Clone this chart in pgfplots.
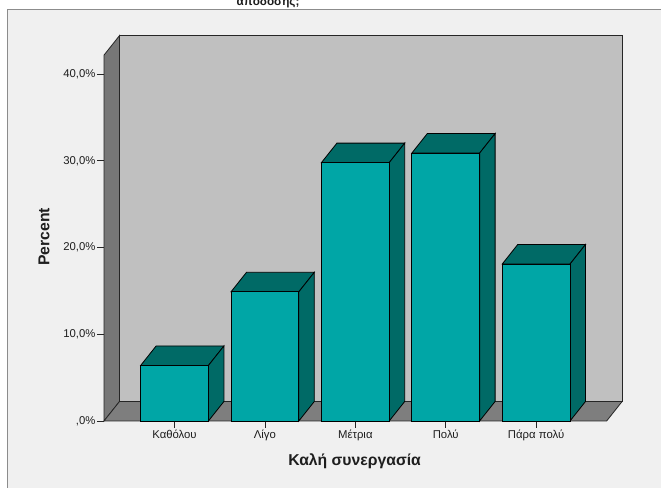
\documentclass[border=0pt]{standalone}
\usepackage{pgfplots}
\pgfplotsset{compat=1.18}
\usepackage{fontspec}
\setmainfont{Liberation Sans}

\definecolor{barfront}{HTML}{00A6A6}
\definecolor{bardark}{HTML}{006A66}
\definecolor{backwall}{HTML}{C0C0C0}
\definecolor{sidewall}{HTML}{777777}
\definecolor{floorc}{HTML}{7E7E7E}
\definecolor{panel}{HTML}{F0F0F0}
\definecolor{framec}{HTML}{8C8C8C}
\definecolor{textc}{HTML}{1E1E1E}

% depth of the 3-D effect, in axis units
\def\dx{0.1715}
\def\dy{2.25}
\def\hw{0.375}

\begin{document}
\begin{tikzpicture}[x=0.75pt,y=0.75pt]
\useasboundingbox (0,0) rectangle (661,488);
\fill[white] (0,0) rectangle (661,488);
% chart frame
\filldraw[fill=panel,draw=framec,line width=1.1pt] (7.5,-20) rectangle (690,478.5);
% title (only its last line shows)
\node[anchor=base,font=\bfseries\fontsize{8.8}{10}\selectfont,text=textc] at (268,482.5) {απόδοσης;};

\begin{axis}[
  at={(78pt,50.25pt)}, anchor=south west,
  x=67.8pt, y=6.5025pt,
  xmin=-0.78, xmax=4.78, ymin=0, ymax=42.2,
  clip=false,
  axis x line*=bottom, axis y line*=left,
  axis line style={draw=none},
  tick align=outside,
  major tick length=5pt,
  major tick style={draw=black!85, line width=0.6pt},
  xtick={0,1,2,3,4},
  xticklabels={Καθόλου,Λίγο,Μέτρια,Πολύ,Πάρα πολύ},
  ytick={0,10,20,30,40},
  yticklabels={{,0\%},{10,0\%},{20,0\%},{30,0\%},{40,0\%}},
  tick label style={font=\fontsize{8.5}{10}\selectfont, text=textc},
  yticklabel style={inner sep=1.2pt},
  xticklabel style={inner sep=1.5pt},
  label style={font=\bfseries\fontsize{11.8}{14}\selectfont, text=textc},
  xlabel={Καλή συνεργασία},
  xlabel style={at={(axis description cs:0.4985,-0.1216)}, anchor=base},
  ylabel={Percent},
  ylabel style={at={(axis description cs:-0.1194,0.503)}, anchor=center},
]
% back wall, left wall and floor
\addplot[fill=backwall, draw=black!85, line width=0.6pt]
  coordinates {(-0.6085,2.25) (4.9515,2.25) (4.9515,44.45) (-0.6085,44.45)} --cycle;
\addplot[fill=sidewall, draw=black!85, line width=0.6pt]
  coordinates {(-0.78,0) (-0.78,42.2) (-0.6085,44.45) (-0.6085,2.25)} --cycle;
\addplot[fill=floorc, draw=black!85, line width=0.6pt]
  coordinates {(-0.78,0) (4.78,0) (4.9515,2.25) (-0.6085,2.25)} --cycle;

% bars: category index / percent
\foreach \i/\v in {0/6.4,1/14.9,2/29.8,3/30.9,4/18.1} {
  \pgfmathsetmacro\xl{\i-\hw}
  \pgfmathsetmacro\xr{\i+\hw}
  \pgfmathsetmacro\xlb{\i-\hw+\dx}
  \pgfmathsetmacro\xrb{\i+\hw+\dx}
  \pgfmathsetmacro\vb{\v+\dy}
  \edef\drawbar{%
    \noexpand\addplot[fill=bardark, draw=black, line width=0.6pt]
      coordinates {(\xl,\v) (\xr,\v) (\xrb,\vb) (\xlb,\vb)} --cycle;
    \noexpand\addplot[fill=bardark, draw=black, line width=0.6pt]
      coordinates {(\xr,0) (\xrb,\dy) (\xrb,\vb) (\xr,\v)} --cycle;
    \noexpand\addplot[fill=barfront, draw=black, line width=0.6pt]
      coordinates {(\xl,0) (\xr,0) (\xr,\v) (\xl,\v)} --cycle;
  }%
  \drawbar
}
\end{axis}
\end{tikzpicture}
\end{document}
